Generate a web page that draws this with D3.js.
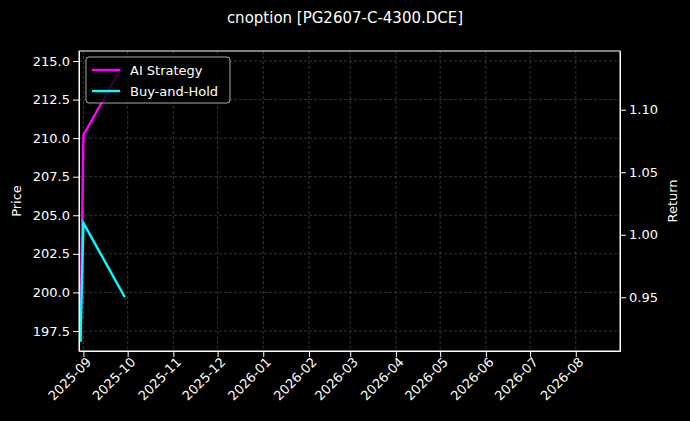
<!DOCTYPE html>
<html><head><meta charset="utf-8">
<script src="https://cdn.jsdelivr.net/npm/d3@7"></script>
<style>body{margin:0;background:#000}text{font-family:"DejaVu Sans",sans-serif}</style>
</head><body><div id="chart"></div>
<script>
// ---- Data ----
const aiDates = ['2025-08-30', '2025-09-01', '2025-09-27'];
const aiPrice = [196.8, 210.2, 214.6];
const bhDates = ['2025-08-30', '2025-09-01', '2025-09-29'];
const bhPrice = [196.8, 204.5, 199.7];
const xTicks = ['2025-09','2025-10','2025-11','2025-12','2026-01','2026-02','2026-03','2026-04','2026-05','2026-06','2026-07','2026-08'];
const priceTicks = [197.5, 200.0, 202.5, 205.0, 207.5, 210.0, 212.5, 215.0];
const returnTicks = [0.95, 1.00, 1.05, 1.10];

const W = 690, H = 421;
const m = {top: 51, right: 70, bottom: 70, left: 79};
const iw = W - m.left - m.right, ih = H - m.top - m.bottom;
const parse = d3.timeParse('%Y-%m-%d');

const svg = d3.select('#chart').append('svg').attr('width', W).attr('height', H)
  .style('background', '#000');
const g = svg.append('g').attr('transform', `translate(${m.left},${m.top})`);

const x = d3.scaleTime().domain([parse('2025-08-29'), parse('2026-08-31')]).range([0, iw]);
const y = d3.scaleLinear().domain([196.2, 215.65]).range([ih, 0]);
const y2 = d3.scaleLinear().domain([0.907, 1.147]).range([ih, 0]);
const tickDates = xTicks.map(t => parse(t + '-01'));

// ---- Grid ----
g.append('g').selectAll('line').data(tickDates).enter().append('line')
  .attr('x1', d => x(d)).attr('x2', d => x(d)).attr('y1', 0).attr('y2', ih)
  .attr('stroke', '#555').attr('stroke-dasharray', '3,2').attr('stroke-width', 0.6);
g.append('g').selectAll('line').data(priceTicks).enter().append('line')
  .attr('y1', d => y(d)).attr('y2', d => y(d)).attr('x1', 0).attr('x2', iw)
  .attr('stroke', '#555').attr('stroke-dasharray', '3,2').attr('stroke-width', 0.6);

// ---- Lines ----
const line = d3.line().x(d => x(parse(d[0]))).y(d => y(d[1]));
g.append('path').datum(d3.zip(aiDates, aiPrice)).attr('d', line)
  .attr('fill', 'none').attr('stroke', '#ff00ff').attr('stroke-width', 2.4);
g.append('path').datum(d3.zip(bhDates, bhPrice)).attr('d', line)
  .attr('fill', 'none').attr('stroke', '#00ffff').attr('stroke-width', 2.4);

// ---- Axes ----
const styleAxis = sel => {
  sel.selectAll('path,line').attr('stroke', '#fff');
  sel.selectAll('text').attr('fill', '#fff').style('font-size', '13px');
};
g.append('g').attr('transform', `translate(0,${ih})`)
  .call(d3.axisBottom(x).tickValues(tickDates).tickFormat(d3.timeFormat('%Y-%m')).tickSizeOuter(0))
  .call(styleAxis)
  .selectAll('text').attr('text-anchor', 'end').attr('dx', '-0.2em').attr('dy', '0.4em')
  .attr('transform', 'rotate(-45)');
g.append('g').call(d3.axisLeft(y).tickValues(priceTicks).tickFormat(d3.format('.1f')).tickSizeOuter(0)).call(styleAxis);
g.append('g').attr('transform', `translate(${iw},0)`)
  .call(d3.axisRight(y2).tickValues(returnTicks).tickFormat(d3.format('.2f')).tickSizeOuter(0)).call(styleAxis);
g.append('rect').attr('width', iw).attr('height', ih).attr('fill', 'none').attr('stroke', '#fff');

// ---- Labels ----
svg.append('text').attr('x', W / 2).attr('y', 23).attr('text-anchor', 'middle')
  .attr('fill', '#fff').style('font-size', '15px').text('cnoption [PG2607-C-4300.DCE]');
svg.append('text').attr('transform', `translate(21,${m.top + ih / 2}) rotate(-90)`)
  .attr('text-anchor', 'middle').attr('fill', '#fff').style('font-size', '13px').text('Price');
svg.append('text').attr('transform', `translate(677,${m.top + ih / 2}) rotate(-90)`)
  .attr('text-anchor', 'middle').attr('fill', '#fff').style('font-size', '13px').text('Return');

// ---- Legend ----
const lg = svg.append('g').attr('transform', 'translate(86,57)');
lg.append('rect').attr('width', 144).attr('height', 46).attr('rx', 3)
  .attr('fill', '#000').attr('fill-opacity', 0.8).attr('stroke', '#aaa');
[['AI Strategy', '#ff00ff'], ['Buy-and-Hold', '#00ffff']].forEach((d, i) => {
  const yy = 13 + i * 21;
  lg.append('line').attr('x1', 6).attr('x2', 34).attr('y1', yy).attr('y2', yy)
    .attr('stroke', d[1]).attr('stroke-width', 2.4);
  lg.append('text').attr('x', 44).attr('y', yy + 4.5).attr('fill', '#fff')
    .style('font-size', '13px').text(d[0]);
});
</script></body></html>
